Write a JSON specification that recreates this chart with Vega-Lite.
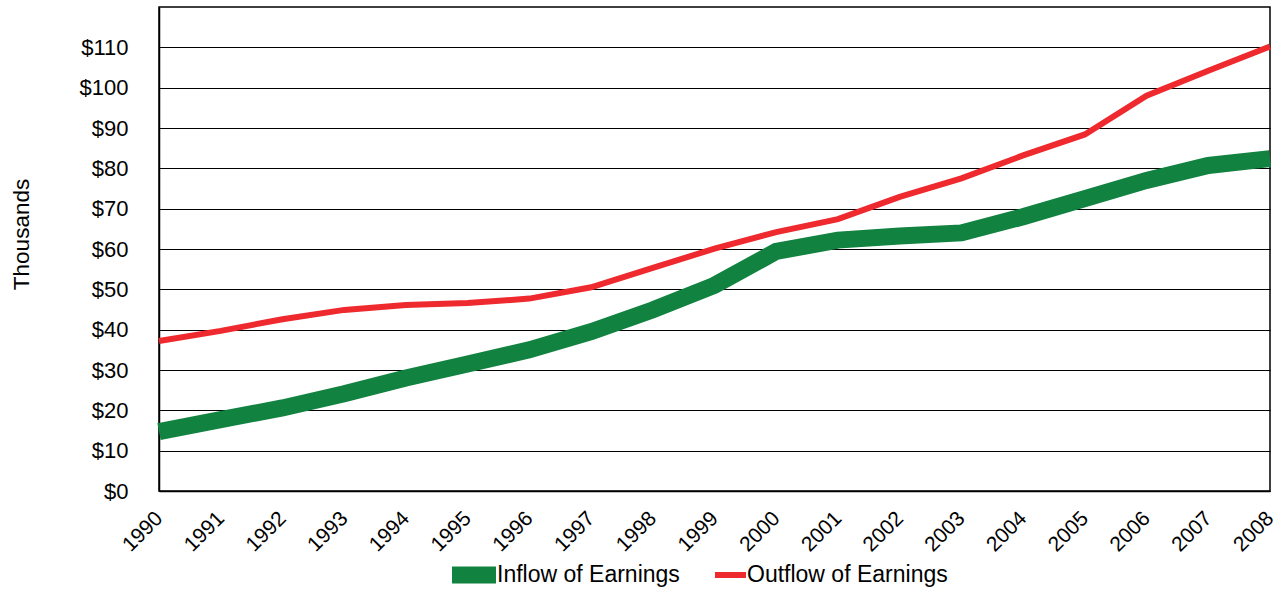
{
  "$schema": "https://vega.github.io/schema/vega-lite/v6.json",
  "width": 1111,
  "height": 484,
  "autosize": {"type": "none"},
  "padding": {"left": 159, "top": 7, "right": 13, "bottom": 99},
  "background": "white",
  "config": {
    "view": {"stroke": "black", "strokeWidth": 1.5},
    "font": "Liberation Sans"
  },
  "data": {
    "values": [
      {"year": 1990, "series": "Inflow of Earnings", "value": 14.7},
      {"year": 1991, "series": "Inflow of Earnings", "value": 17.7},
      {"year": 1992, "series": "Inflow of Earnings", "value": 20.6},
      {"year": 1993, "series": "Inflow of Earnings", "value": 24.1},
      {"year": 1994, "series": "Inflow of Earnings", "value": 28.0},
      {"year": 1995, "series": "Inflow of Earnings", "value": 31.5},
      {"year": 1996, "series": "Inflow of Earnings", "value": 35.0},
      {"year": 1997, "series": "Inflow of Earnings", "value": 39.5},
      {"year": 1998, "series": "Inflow of Earnings", "value": 44.9},
      {"year": 1999, "series": "Inflow of Earnings", "value": 51.0},
      {"year": 2000, "series": "Inflow of Earnings", "value": 59.4},
      {"year": 2001, "series": "Inflow of Earnings", "value": 62.2},
      {"year": 2002, "series": "Inflow of Earnings", "value": 63.2},
      {"year": 2003, "series": "Inflow of Earnings", "value": 64.0},
      {"year": 2004, "series": "Inflow of Earnings", "value": 68.0},
      {"year": 2005, "series": "Inflow of Earnings", "value": 72.5},
      {"year": 2006, "series": "Inflow of Earnings", "value": 77.0},
      {"year": 2007, "series": "Inflow of Earnings", "value": 80.7},
      {"year": 2008, "series": "Inflow of Earnings", "value": 82.4},
      {"year": 1990, "series": "Outflow of Earnings", "value": 37.2},
      {"year": 1991, "series": "Outflow of Earnings", "value": 39.7},
      {"year": 1992, "series": "Outflow of Earnings", "value": 42.6},
      {"year": 1993, "series": "Outflow of Earnings", "value": 44.9},
      {"year": 1994, "series": "Outflow of Earnings", "value": 46.1},
      {"year": 1995, "series": "Outflow of Earnings", "value": 46.6},
      {"year": 1996, "series": "Outflow of Earnings", "value": 47.7},
      {"year": 1997, "series": "Outflow of Earnings", "value": 50.5},
      {"year": 1998, "series": "Outflow of Earnings", "value": 55.3},
      {"year": 1999, "series": "Outflow of Earnings", "value": 60.1},
      {"year": 2000, "series": "Outflow of Earnings", "value": 64.2},
      {"year": 2001, "series": "Outflow of Earnings", "value": 67.4},
      {"year": 2002, "series": "Outflow of Earnings", "value": 72.9},
      {"year": 2003, "series": "Outflow of Earnings", "value": 77.5},
      {"year": 2004, "series": "Outflow of Earnings", "value": 83.2},
      {"year": 2005, "series": "Outflow of Earnings", "value": 88.4},
      {"year": 2006, "series": "Outflow of Earnings", "value": 98.0},
      {"year": 2007, "series": "Outflow of Earnings", "value": 104.2},
      {"year": 2008, "series": "Outflow of Earnings", "value": 110.2}
    ]
  },
  "encoding": {
    "x": {
      "field": "year",
      "type": "quantitative",
      "scale": {"domain": [1990, 2008], "nice": false, "zero": false},
      "axis": {
        "values": [1990,1991,1992,1993,1994,1995,1996,1997,1998,1999,2000,2001,2002,2003,2004,2005,2006,2007,2008],
        "format": "d",
        "title": null,
        "grid": false,
        "ticks": false,
        "domainColor": "black",
        "domainWidth": 1.5,
        "labelAngle": -45,
        "labelAlign": "right",
        "labelBaseline": "middle",
        "labelFontSize": 21,
        "labelColor": "black",
        "labelPadding": 24,
        "labelFont": "Liberation Sans"
      }
    },
    "y": {
      "field": "value",
      "type": "quantitative",
      "scale": {"domain": [0, 120], "nice": false},
      "axis": {
        "values": [0,10,20,30,40,50,60,70,80,90,100,110],
        "format": "$.0f",
        "title": "Thousands",
        "titleFontSize": 22.5,
        "titleFontWeight": "normal",
        "titleColor": "black",
        "titleFont": "Liberation Sans",
        "titleX": -138,
        "titleY": 227,
        "titleAngle": -90,
        "titleAlign": "center",
        "titleBaseline": "middle",
        "grid": true,
        "gridColor": "black",
        "gridOpacity": 1,
        "gridWidth": 1,
        "ticks": false,
        "domainColor": "black",
        "domainWidth": 1.5,
        "labelFontSize": 22,
        "labelColor": "black",
        "labelPadding": 31,
        "labelFont": "Liberation Sans"
      }
    },
    "color": {
      "field": "series",
      "type": "nominal",
      "scale": {"domain": ["Inflow of Earnings", "Outflow of Earnings"], "range": ["#11823F", "#EE2A2E"]},
      "legend": {
        "title": null,
        "orient": "none",
        "direction": "horizontal",
        "legendX": 293,
        "legendY": 546,
        "padding": 0,
        "symbolType": "square",
        "symbolSize": 1936,
        "labelFontSize": 23,
        "labelFont": "Liberation Sans",
        "labelColor": "black",
        "labelOffset": 1,
        "labelLimit": 400,
        "columnPadding": 22,
        "encode": {
          "symbols": {
            "update": {
              "shape": {"signal": "datum.value === 'Inflow of Earnings' ? 'M-1,-0.386H1V0.386H-1Z' : 'M-0.41,-0.136H1V0.136H-0.41Z'"},
              "fill": {"signal": "datum.value === 'Inflow of Earnings' ? '#11823F' : '#EE2A2E'"},
              "fillOpacity": {"value": 1},
              "strokeWidth": {"value": 0}
            }
          }
        }
      }
    }
  },
  "layer": [
    {
      "transform": [{"filter": "datum.series === 'Inflow of Earnings'"}],
      "mark": {"type": "line", "strokeCap": "butt", "strokeJoin": "miter", "clip": false, "strokeWidth": 17}
    },
    {
      "transform": [{"filter": "datum.series === 'Outflow of Earnings'"}],
      "mark": {"type": "line", "strokeCap": "butt", "strokeJoin": "miter", "clip": false, "strokeWidth": 6}
    }
  ]
}
